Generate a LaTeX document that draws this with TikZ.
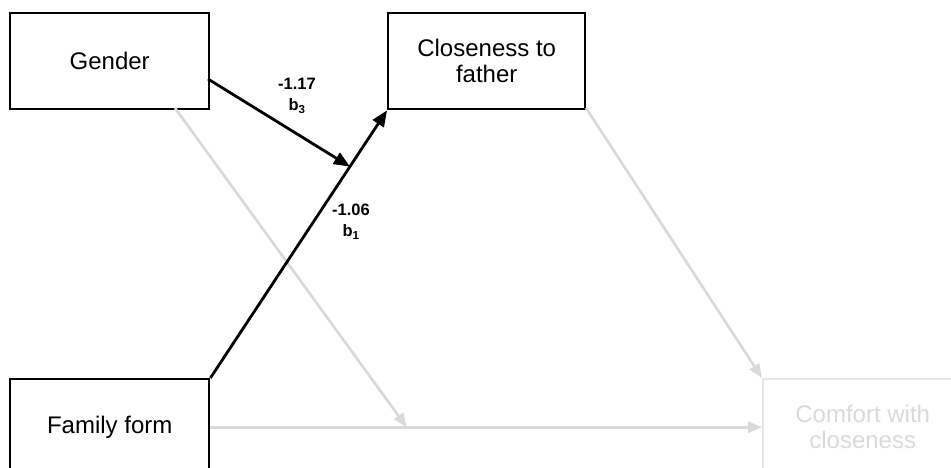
\documentclass[tikz,border=0pt]{standalone}
\usepackage{fontspec}
\setmainfont{Liberation Sans}
\usetikzlibrary{arrows.meta}
\definecolor{lightline}{HTML}{D9D9D9}
\definecolor{faint}{HTML}{E6E6E6}
\definecolor{fainttext}{HTML}{DADADA}
\begin{document}
\begin{tikzpicture}[x=1pt,y=-1pt,
  box/.style={draw, line width=2.4pt, anchor=north west, minimum height=96pt, align=center, inner sep=0pt, font=\fontsize{24}{26}\selectfont},
  fadedbox/.style={box, draw=faint, text=fainttext},
  strong/.style={line width=2.8pt, -{Triangle[length=16pt,width=13pt]}},
  weak/.style={draw=lightline, line width=2.6pt, -{Triangle[length=14pt,width=11pt]}},
  coef/.style={font=\bfseries\fontsize{16.5}{21}\selectfont, align=center}]
\clip (0,0) rectangle (951,468);
\fill[white] (0,0) rectangle (951,468);
\node[box, minimum width=199pt] (g) at (9,12) {Gender};
\node[box, minimum width=197pt] (cf) at (387,12) {Closeness to\\father};
\node[box, minimum width=199pt] (ff) at (9,378) {Family form};
\node[fadedbox, minimum width=199pt] (cc) at (762,378) {Comfort with\\closeness};
% light paths
\coordinate (gs) at (175,108);
\coordinate (cfs) at (586,108);
\draw[weak] (ff.east) -- (cc.west) coordinate[pos=0.356] (hit);
\draw[weak] (gs) -- (hit);
\draw[weak] (cfs) -- (cc.north west);
% strong paths
\draw[strong] (ff.north east) -- (cf.south west) coordinate[pos=0.79] (mid);
\coordinate (gr) at (208,79);
\draw[strong] (gr) -- (mid);
\node[coef] (l3) at (297,96) {-1.17\\b\textsubscript{3}};
\node[coef] (l1) at (351,222) {-1.06\\b\textsubscript{1}};
\end{tikzpicture}
\end{document}
